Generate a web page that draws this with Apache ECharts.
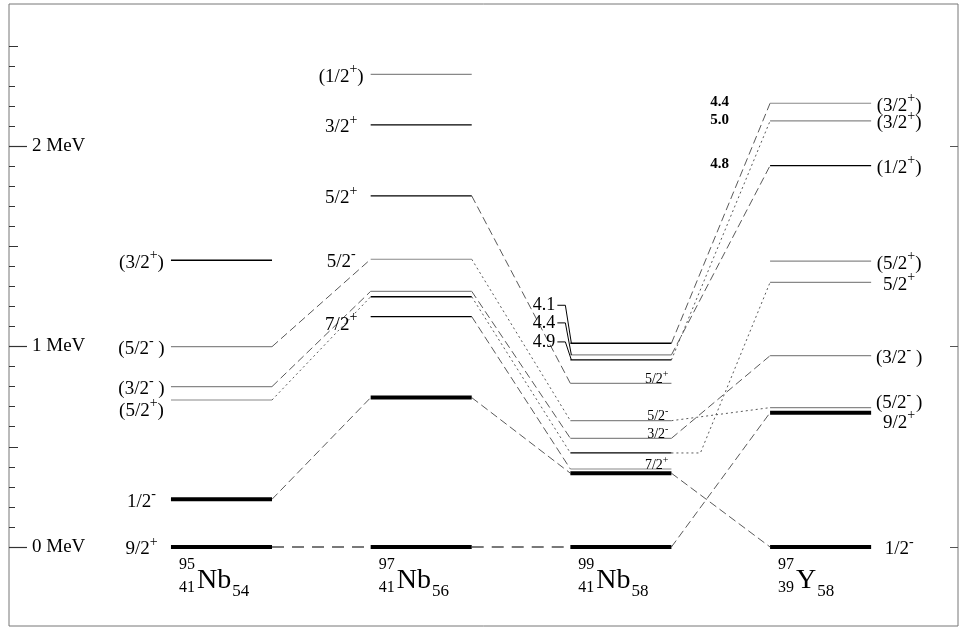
<!DOCTYPE html>
<html>
<head>
<meta charset="utf-8">
<script src="https://cdn.jsdelivr.net/npm/echarts@6/dist/echarts.min.js"></script>
<style>
html, body { margin: 0; padding: 0; background: #fff; }
#chart { width: 959px; height: 628px; }
</style>
</head>
<body>
<div id="chart"></div>
<script>
"use strict";

// nuclides, left to right
var massNumbers = [95, 97, 99, 97];
var protonNumbers = [41, 41, 41, 39];
var neutronNumbers = [54, 56, 58, 58];
var elements = ["Nb", "Nb", "Nb", "Y"];

// levels (MeV), spin/parity, line tone
var nb95Energy = [0, 0.238, 0.733, 0.800, 0.999, 1.430];
var nb95Spin = ["9/2+", "1/2-", "(5/2+)", "(3/2-)", "(5/2-)", "(3/2+)"];
var nb95Tone = ["thick", "thick", "grey", "grey", "grey", "black"];

var nb97Energy = [0, 0.745, 1.149, 1.248, 1.275, 1.435, 1.751, 2.105, 2.357];
var nb97Spin = ["", "", "7/2+", "", "", "5/2-", "5/2+", "3/2+", "(1/2+)"];
var nb97Tone = ["thick", "thick", "black", "black", "grey", "grey", "black", "black", "grey"];

var nb99Energy = [0, 0.368, 0.389, 0.469, 0.542, 0.630, 0.816, 0.933, 0.958, 1.016];
var nb99Spin = ["", "", "7/2+", "", "3/2-", "5/2-", "5/2+", "", "", ""];
var nb99Tone = ["thick", "thick", "grey", "black", "grey", "grey", "grey", "black", "grey", "black"];
var nb99K = ["", "", "", "", "", "", "", "4.9", "4.4", "4.1"];

var y97Energy = [0, 0.670, 0.695, 0.954, 1.320, 1.426, 1.902, 2.125, 2.213];
var y97Spin = ["1/2-", "9/2+", "(5/2-)", "(3/2-)", "5/2+", "(5/2+)", "(1/2+)", "(3/2+)", "(3/2+)"];
var y97Tone = ["thick", "thick", "grey", "grey", "grey", "grey", "black", "grey", "grey"];
var y97K = ["", "", "", "", "", "", "4.8", "5.0", "4.4"];

// links between neighbouring nuclides
var linkFrom = [0, 0, 0, 0, 0, 1, 1, 1, 1, 1, 1, 1, 2, 2, 2, 2, 2, 2, 2, 2];
var linkE1 = [0, 0.238, 0.733, 0.800, 0.999, 0, 0.745, 1.149, 1.248, 1.275, 1.435, 1.751, 0, 0.368, 0.542, 0.630, 0.469, 0.933, 0.958, 1.016];
var linkE2 = [0, 0.745, 1.248, 1.275, 1.435, 0, 0.368, 0.389, 0.469, 0.542, 0.630, 0.816, 0.670, 0, 0.954, 0.695, 1.320, 2.125, 1.902, 2.213];
var linkStyle = ["gs", "dash", "dot", "dash", "dash", "gs", "dash", "dash", "dot", "dash", "dot", "dash", "dash", "dash", "dash", "dot", "dot", "dot", "dash", "dash"];

// ---- layout ----
var SERIF = "'Liberation Serif', 'Times New Roman', serif";
var COL_HALF = 0.253;
var X_RANGE = [-1.064, 3.688];
var Y_RANGE = [-0.394, 2.708];
var labelNudge = { "0:2": 8, "1:2": 6, "3:1": 8, "3:2": -7 };
var leaderRise = { 7: -18, 8: -32, 9: -38 };
var linkElbow = { 16: 29 };

var toneStyle = {
    thick: { stroke: "#000", lineWidth: 4 },
    black: { stroke: "#000", lineWidth: 1.3 },
    grey: { stroke: "#888", lineWidth: 1.2 }
};
var linkStyles = {
    gs: { stroke: "#4d4d4d", lineWidth: 1.3, lineDash: [12, 8] },
    dash: { stroke: "#5a5a5a", lineWidth: 1, lineDash: [8, 4] },
    dot: { stroke: "#5a5a5a", lineWidth: 1, lineDash: [2, 3] }
};
var richBig = {
    b: { fontFamily: SERIF, fontSize: 19, lineHeight: 24, verticalAlign: "bottom", color: "#000" },
    s: { fontFamily: SERIF, fontSize: 14, lineHeight: 10, verticalAlign: "top", color: "#000" }
};
var richSmall = {
    b: { fontFamily: SERIF, fontSize: 14, lineHeight: 17, verticalAlign: "bottom", color: "#000" },
    s: { fontFamily: SERIF, fontSize: 10, lineHeight: 6, verticalAlign: "top", color: "#000" }
};

function spinText(s) {
    var m = /^(\(?)(\d+\/\d+)([+-])(\)?)$/.exec(s);
    if (!m) return "{b|" + s + "}";
    var out = "{b|" + m[1] + m[2] + "}{s|" + m[3] + "}";
    if (m[4]) out += "{b|" + (m[3] === "-" ? " )" : ")") + "}";
    return out;
}

var levels = [];
function addColumn(col, energy, spin, tone, k) {
    energy.forEach(function (e, i) {
        levels.push({ col: col, idx: i, e: e, spin: spin[i], tone: tone[i], k: k ? k[i] : "" });
    });
}
addColumn(0, nb95Energy, nb95Spin, nb95Tone);
addColumn(1, nb97Energy, nb97Spin, nb97Tone);
addColumn(2, nb99Energy, nb99Spin, nb99Tone, nb99K);
addColumn(3, y97Energy, y97Spin, y97Tone, y97K);

var measureCtx = document.createElement("canvas").getContext("2d");
function textWidth(str, size) {
    measureCtx.font = size + "px " + SERIF;
    return measureCtx.measureText(str).width;
}

function renderLevel(params, api) {
    var lv = levels[params.dataIndex];
    var a = api.coord([lv.col - COL_HALF, lv.e]);
    var b = api.coord([lv.col + COL_HALF, lv.e]);
    var children = [{
        type: "line",
        shape: { x1: a[0], y1: a[1], x2: b[0], y2: b[1] },
        style: toneStyle[lv.tone]
    }];
    var nudge = labelNudge[lv.col + ":" + lv.idx] || 0;
    if (lv.spin) {
        if (lv.col === 2) {
            children.push({
                type: "text", x: b[0] - 3, y: b[1] + 3,
                style: { text: spinText(lv.spin), rich: richSmall, align: "right", verticalAlign: "bottom", fontFamily: SERIF, fontSize: 14 }
            });
        } else {
            var cx = (a[0] + b[0]) / 2 + (lv.col === 3 ? 78.5 : -80);
            children.push({
                type: "text", x: cx, y: a[1] + nudge,
                style: { text: spinText(lv.spin), rich: richBig, align: "center", verticalAlign: "middle", fontFamily: SERIF, fontSize: 19 }
            });
        }
    }
    if (lv.k && lv.col === 2) {
        var ly = a[1] + leaderRise[lv.idx];
        children.push({
            type: "text", x: a[0] - 15, y: ly,
            style: { text: lv.k, align: "right", verticalAlign: "middle", fontFamily: SERIF, fontSize: 18, fill: "#000" }
        });
        children.push({
            type: "polyline",
            shape: { points: [[a[0] - 13, ly], [a[0] - 5, ly], [a[0] + 1, a[1]]] },
            style: { stroke: "#000", lineWidth: 1, fill: null }
        });
    }
    if (lv.k && lv.col === 3) {
        children.push({
            type: "text", x: a[0] - 41, y: a[1] - 1,
            style: { text: lv.k, align: "right", verticalAlign: "middle", fontFamily: SERIF, fontSize: 15, fontWeight: "bold", fill: "#000" }
        });
    }
    return { type: "group", children: children };
}

function renderLink(params, api) {
    var i = params.dataIndex;
    var a = api.coord([linkFrom[i] + COL_HALF, linkE1[i]]);
    var b = api.coord([linkFrom[i] + 1 - COL_HALF, linkE2[i]]);
    var pts = [a];
    if (linkElbow[i]) pts.push([a[0] + linkElbow[i], a[1]]);
    pts.push(b);
    var st = Object.assign({ fill: null }, linkStyles[linkStyle[i]]);
    return { type: "polyline", shape: { points: pts }, style: st };
}

function renderNuclide(params, api) {
    var i = params.dataIndex;
    var p = api.coord([i - COL_HALF, 0]);
    var x0 = p[0] + 24, y0 = p[1];
    var symW = textWidth(elements[i], 28);
    var font = function (size) { return { fontFamily: SERIF, fontSize: size, fill: "#000", verticalAlign: "middle" }; };
    return {
        type: "group",
        children: [
            { type: "text", x: x0, y: y0 + 18, style: Object.assign(font(16), { text: String(massNumbers[i]), align: "right" }) },
            { type: "text", x: x0, y: y0 + 41, style: Object.assign(font(16), { text: String(protonNumbers[i]), align: "right" }) },
            { type: "text", x: x0 + 2, y: y0 + 34, style: Object.assign(font(28), { text: elements[i], align: "left" }) },
            { type: "text", x: x0 + 3 + symW, y: y0 + 45, style: Object.assign(font(17), { text: String(neutronNumbers[i]), align: "left" }) }
        ]
    };
}

var chart = echarts.init(document.getElementById("chart"), null, { renderer: "canvas" });
var hiddenX = function (g) { return { type: "value", gridIndex: g, min: X_RANGE[0], max: X_RANGE[1], show: false }; };
var noLine = { show: false, onZero: false };

chart.setOption({
    animation: false,
    backgroundColor: "#fff",
    grid: [
        { left: 9, right: 1, top: 4, bottom: 2, show: true, borderColor: "#777", borderWidth: 1 },
        { left: 9, right: 1, top: 45.75, bottom: 81 },
        { left: 9, right: 1, top: 146, bottom: 81 }
    ],
    xAxis: [hiddenX(0), hiddenX(1), hiddenX(2)],
    yAxis: [
        { type: "value", gridIndex: 0, min: Y_RANGE[0], max: Y_RANGE[1], show: false },
        {
            type: "value", gridIndex: 1, min: 0, max: 2.5, interval: 0.5, position: "left",
            axisLine: noLine, splitLine: { show: false }, axisLabel: { show: false },
            axisTick: { show: true, inside: true, length: 9, lineStyle: { color: "#333", width: 1 } },
            minorTick: { show: true, splitNumber: 5, length: 6, lineStyle: { color: "#333", width: 1 } }
        },
        {
            type: "value", gridIndex: 2, min: 0, max: 2, interval: 1, position: "left",
            axisLine: noLine, splitLine: { show: false },
            axisTick: { show: true, inside: true, length: 18, lineStyle: { color: "#333", width: 1.2 } },
            axisLabel: { inside: true, margin: 23, formatter: "{value} MeV", fontFamily: SERIF, fontSize: 19, color: "#000" }
        },
        {
            type: "value", gridIndex: 2, min: 0, max: 2, interval: 1, position: "right",
            axisLine: noLine, splitLine: { show: false }, axisLabel: { show: false },
            axisTick: { show: true, inside: true, length: 8, lineStyle: { color: "#555", width: 1 } }
        }
    ],
    series: [
        {
            type: "custom", name: "links", xAxisIndex: 0, yAxisIndex: 0, silent: true,
            data: linkFrom.map(function (c, i) { return [c, linkE1[i], linkE2[i]]; }),
            renderItem: renderLink
        },
        {
            type: "custom", name: "levels", xAxisIndex: 0, yAxisIndex: 0, silent: true,
            data: levels.map(function (lv) { return [lv.col, lv.e]; }),
            renderItem: renderLevel
        },
        {
            type: "custom", name: "nuclides", xAxisIndex: 0, yAxisIndex: 0, silent: true,
            data: massNumbers.map(function (m, i) { return [i, 0]; }),
            renderItem: renderNuclide
        }
    ]
});
</script>
</body>
</html>
